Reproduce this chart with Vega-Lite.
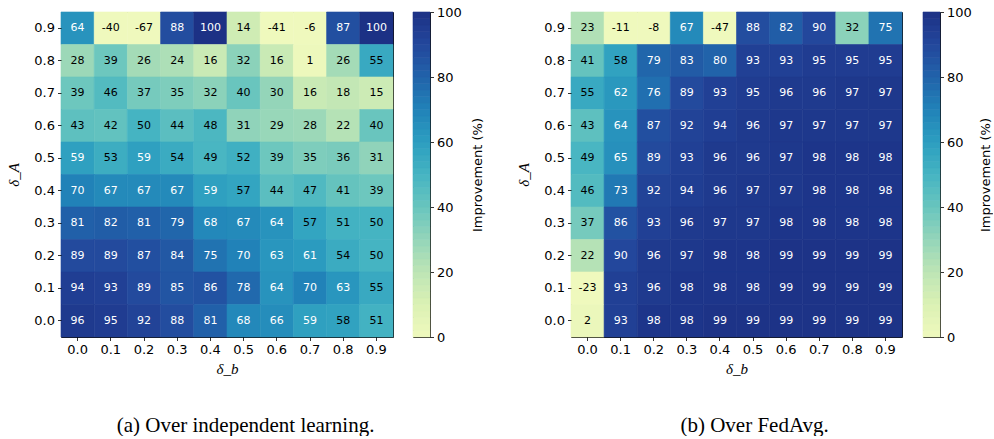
{
  "$schema": "https://vega.github.io/schema/vega-lite/v6.json",
  "padding": {"left": 6, "top": 5, "right": 0, "bottom": 0},
  "background": "white",
  "config": {
    "view": {"stroke": "#111", "strokeWidth": 1},
    "axis": {"labelFont": "DejaVu Sans", "labelFontSize": 13, "labelColor": "#000", "tickColor": "#000", "tickSize": 3.5, "tickWidth": 0.8, "domain": false, "grid": false, "labelPadding": 3, "titleFont": "Liberation Serif", "titleFontStyle": "italic", "titleFontWeight": "normal", "titleFontSize": 15, "titleColor": "#000"}
  },
  "datasets": {
    "ind": [
      {"A":"0.9","b":"0.0","v":64},{"A":"0.9","b":"0.1","v":-40},{"A":"0.9","b":"0.2","v":-67},{"A":"0.9","b":"0.3","v":88},{"A":"0.9","b":"0.4","v":100},{"A":"0.9","b":"0.5","v":14},{"A":"0.9","b":"0.6","v":-41},{"A":"0.9","b":"0.7","v":-6},{"A":"0.9","b":"0.8","v":87},{"A":"0.9","b":"0.9","v":100},
      {"A":"0.8","b":"0.0","v":28},{"A":"0.8","b":"0.1","v":39},{"A":"0.8","b":"0.2","v":26},{"A":"0.8","b":"0.3","v":24},{"A":"0.8","b":"0.4","v":16},{"A":"0.8","b":"0.5","v":32},{"A":"0.8","b":"0.6","v":16},{"A":"0.8","b":"0.7","v":1},{"A":"0.8","b":"0.8","v":26},{"A":"0.8","b":"0.9","v":55},
      {"A":"0.7","b":"0.0","v":39},{"A":"0.7","b":"0.1","v":46},{"A":"0.7","b":"0.2","v":37},{"A":"0.7","b":"0.3","v":35},{"A":"0.7","b":"0.4","v":32},{"A":"0.7","b":"0.5","v":40},{"A":"0.7","b":"0.6","v":30},{"A":"0.7","b":"0.7","v":16},{"A":"0.7","b":"0.8","v":18},{"A":"0.7","b":"0.9","v":15},
      {"A":"0.6","b":"0.0","v":43},{"A":"0.6","b":"0.1","v":42},{"A":"0.6","b":"0.2","v":50},{"A":"0.6","b":"0.3","v":44},{"A":"0.6","b":"0.4","v":48},{"A":"0.6","b":"0.5","v":31},{"A":"0.6","b":"0.6","v":29},{"A":"0.6","b":"0.7","v":28},{"A":"0.6","b":"0.8","v":22},{"A":"0.6","b":"0.9","v":40},
      {"A":"0.5","b":"0.0","v":59},{"A":"0.5","b":"0.1","v":53},{"A":"0.5","b":"0.2","v":59},{"A":"0.5","b":"0.3","v":54},{"A":"0.5","b":"0.4","v":49},{"A":"0.5","b":"0.5","v":52},{"A":"0.5","b":"0.6","v":39},{"A":"0.5","b":"0.7","v":35},{"A":"0.5","b":"0.8","v":36},{"A":"0.5","b":"0.9","v":31},
      {"A":"0.4","b":"0.0","v":70},{"A":"0.4","b":"0.1","v":67},{"A":"0.4","b":"0.2","v":67},{"A":"0.4","b":"0.3","v":67},{"A":"0.4","b":"0.4","v":59},{"A":"0.4","b":"0.5","v":57},{"A":"0.4","b":"0.6","v":44},{"A":"0.4","b":"0.7","v":47},{"A":"0.4","b":"0.8","v":41},{"A":"0.4","b":"0.9","v":39},
      {"A":"0.3","b":"0.0","v":81},{"A":"0.3","b":"0.1","v":82},{"A":"0.3","b":"0.2","v":81},{"A":"0.3","b":"0.3","v":79},{"A":"0.3","b":"0.4","v":68},{"A":"0.3","b":"0.5","v":67},{"A":"0.3","b":"0.6","v":64},{"A":"0.3","b":"0.7","v":57},{"A":"0.3","b":"0.8","v":51},{"A":"0.3","b":"0.9","v":50},
      {"A":"0.2","b":"0.0","v":89},{"A":"0.2","b":"0.1","v":89},{"A":"0.2","b":"0.2","v":87},{"A":"0.2","b":"0.3","v":84},{"A":"0.2","b":"0.4","v":75},{"A":"0.2","b":"0.5","v":70},{"A":"0.2","b":"0.6","v":63},{"A":"0.2","b":"0.7","v":61},{"A":"0.2","b":"0.8","v":54},{"A":"0.2","b":"0.9","v":50},
      {"A":"0.1","b":"0.0","v":94},{"A":"0.1","b":"0.1","v":93},{"A":"0.1","b":"0.2","v":89},{"A":"0.1","b":"0.3","v":85},{"A":"0.1","b":"0.4","v":86},{"A":"0.1","b":"0.5","v":78},{"A":"0.1","b":"0.6","v":64},{"A":"0.1","b":"0.7","v":70},{"A":"0.1","b":"0.8","v":63},{"A":"0.1","b":"0.9","v":55},
      {"A":"0.0","b":"0.0","v":96},{"A":"0.0","b":"0.1","v":95},{"A":"0.0","b":"0.2","v":92},{"A":"0.0","b":"0.3","v":88},{"A":"0.0","b":"0.4","v":81},{"A":"0.0","b":"0.5","v":68},{"A":"0.0","b":"0.6","v":66},{"A":"0.0","b":"0.7","v":59},{"A":"0.0","b":"0.8","v":58},{"A":"0.0","b":"0.9","v":51}
    ],
    "fed": [
      {"A":"0.9","b":"0.0","v":23},{"A":"0.9","b":"0.1","v":-11},{"A":"0.9","b":"0.2","v":-8},{"A":"0.9","b":"0.3","v":67},{"A":"0.9","b":"0.4","v":-47},{"A":"0.9","b":"0.5","v":88},{"A":"0.9","b":"0.6","v":82},{"A":"0.9","b":"0.7","v":90},{"A":"0.9","b":"0.8","v":32},{"A":"0.9","b":"0.9","v":75},
      {"A":"0.8","b":"0.0","v":41},{"A":"0.8","b":"0.1","v":58},{"A":"0.8","b":"0.2","v":79},{"A":"0.8","b":"0.3","v":83},{"A":"0.8","b":"0.4","v":80},{"A":"0.8","b":"0.5","v":93},{"A":"0.8","b":"0.6","v":93},{"A":"0.8","b":"0.7","v":95},{"A":"0.8","b":"0.8","v":95},{"A":"0.8","b":"0.9","v":95},
      {"A":"0.7","b":"0.0","v":55},{"A":"0.7","b":"0.1","v":62},{"A":"0.7","b":"0.2","v":76},{"A":"0.7","b":"0.3","v":89},{"A":"0.7","b":"0.4","v":93},{"A":"0.7","b":"0.5","v":95},{"A":"0.7","b":"0.6","v":96},{"A":"0.7","b":"0.7","v":96},{"A":"0.7","b":"0.8","v":97},{"A":"0.7","b":"0.9","v":97},
      {"A":"0.6","b":"0.0","v":43},{"A":"0.6","b":"0.1","v":64},{"A":"0.6","b":"0.2","v":87},{"A":"0.6","b":"0.3","v":92},{"A":"0.6","b":"0.4","v":94},{"A":"0.6","b":"0.5","v":96},{"A":"0.6","b":"0.6","v":97},{"A":"0.6","b":"0.7","v":97},{"A":"0.6","b":"0.8","v":97},{"A":"0.6","b":"0.9","v":97},
      {"A":"0.5","b":"0.0","v":49},{"A":"0.5","b":"0.1","v":65},{"A":"0.5","b":"0.2","v":89},{"A":"0.5","b":"0.3","v":93},{"A":"0.5","b":"0.4","v":96},{"A":"0.5","b":"0.5","v":96},{"A":"0.5","b":"0.6","v":97},{"A":"0.5","b":"0.7","v":98},{"A":"0.5","b":"0.8","v":98},{"A":"0.5","b":"0.9","v":98},
      {"A":"0.4","b":"0.0","v":46},{"A":"0.4","b":"0.1","v":73},{"A":"0.4","b":"0.2","v":92},{"A":"0.4","b":"0.3","v":94},{"A":"0.4","b":"0.4","v":96},{"A":"0.4","b":"0.5","v":97},{"A":"0.4","b":"0.6","v":97},{"A":"0.4","b":"0.7","v":98},{"A":"0.4","b":"0.8","v":98},{"A":"0.4","b":"0.9","v":98},
      {"A":"0.3","b":"0.0","v":37},{"A":"0.3","b":"0.1","v":86},{"A":"0.3","b":"0.2","v":93},{"A":"0.3","b":"0.3","v":96},{"A":"0.3","b":"0.4","v":97},{"A":"0.3","b":"0.5","v":97},{"A":"0.3","b":"0.6","v":98},{"A":"0.3","b":"0.7","v":98},{"A":"0.3","b":"0.8","v":98},{"A":"0.3","b":"0.9","v":98},
      {"A":"0.2","b":"0.0","v":22},{"A":"0.2","b":"0.1","v":90},{"A":"0.2","b":"0.2","v":96},{"A":"0.2","b":"0.3","v":97},{"A":"0.2","b":"0.4","v":98},{"A":"0.2","b":"0.5","v":98},{"A":"0.2","b":"0.6","v":99},{"A":"0.2","b":"0.7","v":99},{"A":"0.2","b":"0.8","v":99},{"A":"0.2","b":"0.9","v":99},
      {"A":"0.1","b":"0.0","v":-23},{"A":"0.1","b":"0.1","v":93},{"A":"0.1","b":"0.2","v":96},{"A":"0.1","b":"0.3","v":98},{"A":"0.1","b":"0.4","v":98},{"A":"0.1","b":"0.5","v":98},{"A":"0.1","b":"0.6","v":99},{"A":"0.1","b":"0.7","v":99},{"A":"0.1","b":"0.8","v":99},{"A":"0.1","b":"0.9","v":99},
      {"A":"0.0","b":"0.0","v":2},{"A":"0.0","b":"0.1","v":93},{"A":"0.0","b":"0.2","v":98},{"A":"0.0","b":"0.3","v":98},{"A":"0.0","b":"0.4","v":99},{"A":"0.0","b":"0.5","v":99},{"A":"0.0","b":"0.6","v":99},{"A":"0.0","b":"0.7","v":99},{"A":"0.0","b":"0.8","v":99},{"A":"0.0","b":"0.9","v":99}
    ],
    "cbar": [
      {"lo":0,"hi":2,"m":1},{"lo":2,"hi":4,"m":3},{"lo":4,"hi":6,"m":5},{"lo":6,"hi":8,"m":7},{"lo":8,"hi":10,"m":9},
      {"lo":10,"hi":12,"m":11},{"lo":12,"hi":14,"m":13},{"lo":14,"hi":16,"m":15},{"lo":16,"hi":18,"m":17},{"lo":18,"hi":20,"m":19},
      {"lo":20,"hi":22,"m":21},{"lo":22,"hi":24,"m":23},{"lo":24,"hi":26,"m":25},{"lo":26,"hi":28,"m":27},{"lo":28,"hi":30,"m":29},
      {"lo":30,"hi":32,"m":31},{"lo":32,"hi":34,"m":33},{"lo":34,"hi":36,"m":35},{"lo":36,"hi":38,"m":37},{"lo":38,"hi":40,"m":39},
      {"lo":40,"hi":42,"m":41},{"lo":42,"hi":44,"m":43},{"lo":44,"hi":46,"m":45},{"lo":46,"hi":48,"m":47},{"lo":48,"hi":50,"m":49},
      {"lo":50,"hi":52,"m":51},{"lo":52,"hi":54,"m":53},{"lo":54,"hi":56,"m":55},{"lo":56,"hi":58,"m":57},{"lo":58,"hi":60,"m":59},
      {"lo":60,"hi":62,"m":61},{"lo":62,"hi":64,"m":63},{"lo":64,"hi":66,"m":65},{"lo":66,"hi":68,"m":67},{"lo":68,"hi":70,"m":69},
      {"lo":70,"hi":72,"m":71},{"lo":72,"hi":74,"m":73},{"lo":74,"hi":76,"m":75},{"lo":76,"hi":78,"m":77},{"lo":78,"hi":80,"m":79},
      {"lo":80,"hi":82,"m":81},{"lo":82,"hi":84,"m":83},{"lo":84,"hi":86,"m":85},{"lo":86,"hi":88,"m":87},{"lo":88,"hi":90,"m":89},
      {"lo":90,"hi":92,"m":91},{"lo":92,"hi":94,"m":93},{"lo":94,"hi":96,"m":95},{"lo":96,"hi":98,"m":97},{"lo":98,"hi":100,"m":99}
    ]
  },
  "spacing": 31,
  "resolve": {"scale": {"x": "independent", "y": "independent", "color": "shared", "stroke": "shared"}},
  "hconcat": [
    {
      "title": {"text": "(a) Over independent learning.", "orient": "bottom", "anchor": "middle", "font": "Liberation Serif", "fontSize": 21, "fontWeight": "normal", "color": "#000", "offset": 38},
      "spacing": 18,
      "resolve": {"scale": {"x": "independent", "y": "independent", "color": "shared", "stroke": "shared"}},
      "hconcat": [
        {
          "width": 332, "height": 325,
          "data": {"name": "ind"},
          "encoding": {
            "x": {"field": "b", "type": "ordinal", "title": "δ_b", "axis": {"labelAngle": 0, "titlePadding": 5}},
            "y": {"field": "A", "type": "ordinal", "sort": "descending", "title": "δ_A", "axis": {"titlePadding": 12}}
          },
          "layer": [
            {"mark": {"type": "rect", "strokeWidth": 0.6}, "encoding": {
              "color": {"field": "v", "type": "quantitative", "scale": {"scheme": "yellowgreenblue", "domain": [0, 100], "clamp": true}, "legend": null},
              "stroke": {"field": "v", "type": "quantitative", "scale": {"scheme": "yellowgreenblue", "domain": [0, 100], "clamp": true}, "legend": null}}},
            {"mark": {"type": "text", "font": "DejaVu Sans", "fontSize": 11}, "encoding": {"text": {"field": "v", "type": "nominal"}, "color": {"condition": {"test": "datum.v >= 59", "value": "white"}, "value": "black"}}}
          ]
        },
        {
          "width": 17, "height": 325,
          "data": {"name": "cbar"},
          "mark": {"type": "rect", "strokeWidth": 0.6},
          "encoding": {
            "y": {"field": "lo", "type": "quantitative", "scale": {"domain": [0, 100], "nice": false, "zero": false}, "axis": {"orient": "right", "values": [0, 20, 40, 60, 80, 100], "title": "Improvement (%)", "titleFont": "DejaVu Sans", "titleFontStyle": "normal", "titleFontSize": 13, "titleAngle": 270, "titleBaseline": "top", "titlePadding": 10}},
            "y2": {"field": "hi"},
            "color": {"field": "m", "type": "quantitative", "scale": {"scheme": "yellowgreenblue", "domain": [0, 100], "clamp": true}, "legend": null},
            "stroke": {"field": "m", "type": "quantitative", "scale": {"scheme": "yellowgreenblue", "domain": [0, 100], "clamp": true}, "legend": null}
          }
        }
      ]
    },
    {
      "title": {"text": "(b) Over FedAvg.", "orient": "bottom", "anchor": "middle", "font": "Liberation Serif", "fontSize": 21, "fontWeight": "normal", "color": "#000", "offset": 38},
      "spacing": 19,
      "resolve": {"scale": {"x": "independent", "y": "independent", "color": "shared", "stroke": "shared"}},
      "hconcat": [
        {
          "width": 331, "height": 325,
          "data": {"name": "fed"},
          "encoding": {
            "x": {"field": "b", "type": "ordinal", "title": "δ_b", "axis": {"labelAngle": 0, "titlePadding": 5}},
            "y": {"field": "A", "type": "ordinal", "sort": "descending", "title": "δ_A", "axis": {"titlePadding": 12}}
          },
          "layer": [
            {"mark": {"type": "rect", "strokeWidth": 0.6}, "encoding": {
              "color": {"field": "v", "type": "quantitative", "scale": {"scheme": "yellowgreenblue", "domain": [0, 100], "clamp": true}, "legend": null},
              "stroke": {"field": "v", "type": "quantitative", "scale": {"scheme": "yellowgreenblue", "domain": [0, 100], "clamp": true}, "legend": null}}},
            {"mark": {"type": "text", "font": "DejaVu Sans", "fontSize": 11}, "encoding": {"text": {"field": "v", "type": "nominal"}, "color": {"condition": {"test": "datum.v >= 59", "value": "white"}, "value": "black"}}}
          ]
        },
        {
          "width": 17, "height": 325,
          "data": {"name": "cbar"},
          "mark": {"type": "rect", "strokeWidth": 0.6},
          "encoding": {
            "y": {"field": "lo", "type": "quantitative", "scale": {"domain": [0, 100], "nice": false, "zero": false}, "axis": {"orient": "right", "values": [0, 20, 40, 60, 80, 100], "title": "Improvement (%)", "titleFont": "DejaVu Sans", "titleFontStyle": "normal", "titleFontSize": 13, "titleAngle": 270, "titleBaseline": "top", "titlePadding": 8}},
            "y2": {"field": "hi"},
            "color": {"field": "m", "type": "quantitative", "scale": {"scheme": "yellowgreenblue", "domain": [0, 100], "clamp": true}, "legend": null},
            "stroke": {"field": "m", "type": "quantitative", "scale": {"scheme": "yellowgreenblue", "domain": [0, 100], "clamp": true}, "legend": null}
          }
        }
      ]
    }
  ]
}
